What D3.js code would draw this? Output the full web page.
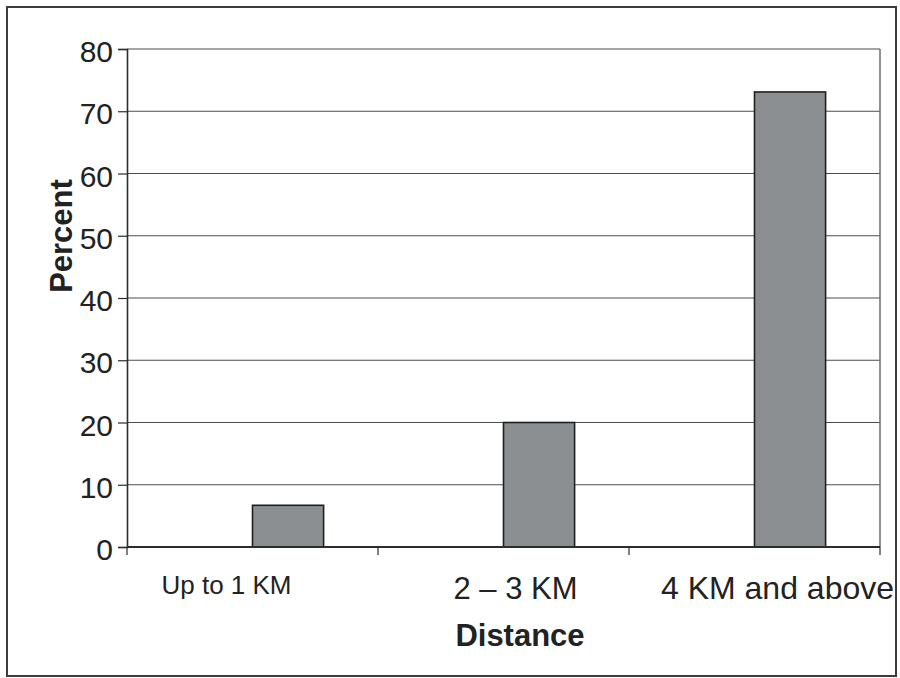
<!DOCTYPE html>
<html>
<head>
<meta charset="utf-8">
<script src="https://cdn.jsdelivr.net/npm/d3@7"></script>
<style>
  html, body { margin: 0; padding: 0; background: #ffffff; }
  svg { display: block; }
  text { font-family: "Liberation Sans", Arial, sans-serif; fill: #222; }
</style>
</head>
<body>
<svg id="chart" width="900" height="678"></svg>
<script>
// ---- data ----
const categories = ["Up to 1 KM", "2 – 3 KM", "4 KM and above"];
const percentValues = [6.7, 20, 73.1];
const yTicks = [0, 10, 20, 30, 40, 50, 60, 70, 80];
const yTitle = "Percent";
const xTitle = "Distance";

// ---- layout ----
const W = 900, H = 678;
const plot = { left: 127, right: 880, top: 49, bottom: 547 };
// per-label font sizes / offsets relative to band centre (layout only)
const labelSize = [26, 31, 32];
const labelDx = [-26, 12, 23];
const labelBaseline = [594, 599, 599];

const svg = d3.select("#chart");

// outer frame
svg.append("rect")
  .attr("x", 7).attr("y", 7)
  .attr("width", 889).attr("height", 669)
  .attr("fill", "#ffffff")
  .attr("stroke", "#3a3d3e").attr("stroke-width", 2);

const x = d3.scaleBand()
  .domain(categories)
  .range([plot.left, plot.right])
  .paddingInner(0).paddingOuter(0);

// two series slots per category; the first one is empty, bars sit in the second
const slot = d3.scaleBand()
  .domain(["empty", "percent"])
  .range([0, x.bandwidth()])
  .paddingInner(0).paddingOuter(0.765);

const y = d3.scaleLinear().domain([0, 80]).range([plot.bottom, plot.top]);

// gridlines
svg.append("g")
  .selectAll("line")
  .data(yTicks.filter(d => d > 0))
  .join("line")
  .attr("x1", plot.left).attr("x2", plot.right)
  .attr("y1", d => y(d)).attr("y2", d => y(d))
  .attr("stroke", "#4a4d4e").attr("stroke-width", 1.2);

// plot-area right border
svg.append("line")
  .attr("x1", plot.right).attr("x2", plot.right)
  .attr("y1", plot.top).attr("y2", plot.bottom)
  .attr("stroke", "#6a6d6e").attr("stroke-width", 1.5);

// bars
svg.append("g")
  .selectAll("rect")
  .data(categories.map((c, i) => ({ c, v: percentValues[i] })))
  .join("rect")
  .attr("x", d => x(d.c) + slot("percent"))
  .attr("y", d => y(d.v))
  .attr("width", slot.bandwidth())
  .attr("height", d => y(0) - y(d.v))
  .attr("fill", "#8c8f91")
  .attr("stroke", "#1e2020").attr("stroke-width", 1.6);

// y axis
const yAxis = d3.axisLeft(y).tickValues(yTicks).tickSize(9).tickPadding(5).tickFormat(d3.format("d"));
const gy = svg.append("g").attr("transform", `translate(${plot.left},0)`).call(yAxis);
gy.select(".domain").attr("stroke", "#2a2d2e").attr("stroke-width", 1.6);
gy.selectAll(".tick line").attr("stroke", "#2a2d2e").attr("stroke-width", 1.2);
gy.selectAll(".tick text")
  .attr("font-size", 30)
  .attr("fill", "#222")
  .attr("dy", "0.42em")
  .style("font-family", '"Liberation Sans", Arial, sans-serif');

// x axis line + tick marks at band boundaries
const xBoundaries = categories.map(c => x(c)).concat([plot.right]);
svg.append("line")
  .attr("x1", plot.left).attr("x2", plot.right)
  .attr("y1", y(0)).attr("y2", y(0))
  .attr("stroke", "#2a2d2e").attr("stroke-width", 1.8);
svg.append("g").selectAll("line")
  .data(xBoundaries)
  .join("line")
  .attr("x1", d => d).attr("x2", d => d)
  .attr("y1", y(0)).attr("y2", y(0) + 8)
  .attr("stroke", "#2a2d2e").attr("stroke-width", 1.2);

// x labels
svg.append("g").selectAll("text")
  .data(categories)
  .join("text")
  .attr("x", (d, i) => x(d) + x.bandwidth() / 2 + labelDx[i])
  .attr("y", (d, i) => labelBaseline[i])
  .attr("text-anchor", "middle")
  .attr("font-size", (d, i) => labelSize[i])
  .text(d => d);

// axis titles
svg.append("text")
  .attr("x", 520).attr("y", 646)
  .attr("text-anchor", "middle")
  .attr("font-size", 31)
  .attr("font-weight", "bold")
  .text(xTitle);

svg.append("text")
  .attr("transform", "translate(72,236) rotate(-90)")
  .attr("text-anchor", "middle")
  .attr("font-size", 31)
  .attr("font-weight", "bold")
  .text(yTitle);
</script>
</body>
</html>
